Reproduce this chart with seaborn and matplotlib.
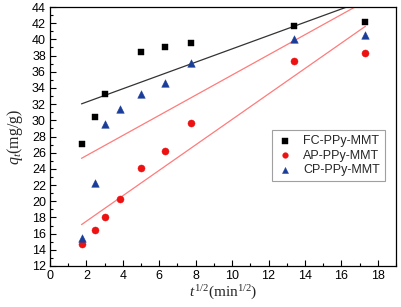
import numpy as np
import pandas as pd
import matplotlib
matplotlib.use("Agg")
import matplotlib.pyplot as plt
import seaborn as sns
from matplotlib.ticker import MultipleLocator

sns.set_theme(style="ticks")
plt.rcParams['font.family'] = ['Liberation Sans', 'DejaVu Sans']
plt.rcParams['mathtext.fontset'] = 'custom'
plt.rcParams['mathtext.rm'] = 'Liberation Serif'
plt.rcParams['mathtext.it'] = 'Liberation Serif:italic'

series = ["FC-PPy-MMT", "AP-PPy-MMT", "CP-PPy-MMT"]
fc_x = [1.73, 2.45, 3.00, 5.00, 6.32, 7.75, 13.42, 17.32]
fc_y = [27.1, 30.4, 33.3, 38.5, 39.0, 39.6, 41.6, 42.2]
ap_x = [1.73, 2.45, 3.00, 3.87, 5.00, 6.32, 7.75, 13.42, 17.32]
ap_y = [14.7, 16.5, 18.1, 20.3, 24.1, 26.2, 29.7, 37.3, 38.3]
cp_x = [1.73, 2.45, 3.00, 3.87, 5.00, 6.32, 7.75, 13.42, 17.32]
cp_y = [15.4, 22.3, 29.5, 31.4, 33.2, 34.6, 37.1, 40.1, 40.5]

fig = plt.figure(figsize=(4.01, 3.07), dpi=100)
ax = fig.add_axes([50/401, 1-266/307, 346/401, 259/307])

styles = {
    "FC-PPy-MMT": dict(x=fc_x, y=fc_y, marker="s", color="#000000", line="#333333", ms=22),
    "AP-PPy-MMT": dict(x=ap_x, y=ap_y, marker="o", color="#ee1111", line="#ff7b7b", ms=26),
    "CP-PPy-MMT": dict(x=cp_x, y=cp_y, marker="^", color="#1a3d99", line="#ff7b7b", ms=30),
}
for name in series:
    s = styles[name]
    df = pd.DataFrame({"x": s["x"], "y": s["y"]})
    sns.regplot(data=df, x="x", y="y", ax=ax, scatter=False, ci=None, truncate=True,
                line_kws=dict(color=s["line"], lw=0.9))
for name in series:
    s = styles[name]
    df = pd.DataFrame({"x": s["x"], "y": s["y"]})
    sns.scatterplot(data=df, x="x", y="y", ax=ax, marker=s["marker"], color=s["color"],
                    s=s["ms"], edgecolor=s["color"], linewidth=0.3, label=name, zorder=5)

ax.set_xlim(0, 19)
ax.set_ylim(12, 44)
ax.xaxis.set_major_locator(MultipleLocator(2))
ax.xaxis.set_minor_locator(MultipleLocator(1))
ax.yaxis.set_major_locator(MultipleLocator(2))
ax.yaxis.set_minor_locator(MultipleLocator(1))
ax.tick_params(which="both", direction="in", top=False, right=False, labelsize=9, colors="black", pad=3)
ax.tick_params(which="major", length=4, width=0.8)
ax.tick_params(which="minor", length=2, width=0.8)
for sp in ax.spines.values():
    sp.set_color("black")
    sp.set_linewidth(0.9)

ax.set_xlabel(r"$\mathit{t}^{1/2}\mathrm{(min^{1/2})}$", fontsize=11, labelpad=1)
ax.set_ylabel(r"$\mathit{q_t}\mathrm{(mg/g)}$", fontsize=11.5, labelpad=5)

leg = ax.legend(loc="upper right", bbox_to_anchor=(335/346, (266-130)/259), fontsize=9,
                frameon=True, fancybox=False, edgecolor="#888888", handletextpad=0.9,
                borderpad=0.4, labelspacing=0.2, handlelength=1.2, markerscale=0.8,
                borderaxespad=0)
leg.get_frame().set_linewidth(0.8)

fig.savefig("out.png", dpi=100)
